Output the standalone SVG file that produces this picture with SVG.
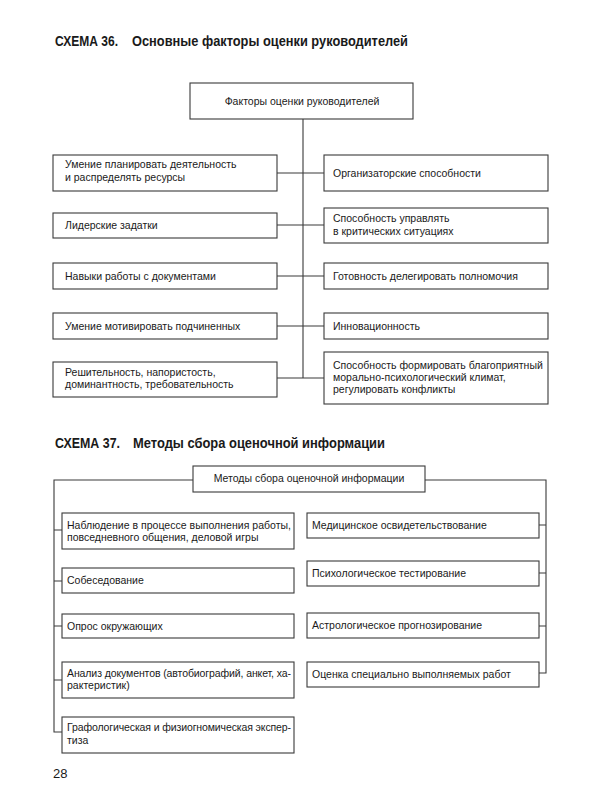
<svg xmlns="http://www.w3.org/2000/svg" width="600" height="800" viewBox="0 0 600 800">
<style>
.bg{fill:#fff}
.box{fill:#fff;stroke:#3a3a3a;stroke-width:1.1}
.ln{fill:none;stroke:#3a3a3a;stroke-width:1.1}
text{font-family:"Liberation Sans",Arial,sans-serif;fill:#1a1a1a}
.t{font-size:10.5px}
.c{text-anchor:middle}
.h{font-size:15px;font-weight:bold}
.pg{font-size:13px}
</style>
<rect class="bg" x="0" y="0" width="600" height="800"/>

<text class="h" x="55" y="46" textLength="63" lengthAdjust="spacingAndGlyphs">СХЕМА 36.</text>
<text class="h" x="132" y="46" textLength="276" lengthAdjust="spacingAndGlyphs">Основные факторы оценки руководителей</text>

<g id="connectors36">
<path class="ln" d="M303 119 V378 M277 173 H324 M277 225 H324 M277 276 H324 M277 326 H324 M277 378 H324"/>
</g>

<g id="n36_root"><rect class="box" x="190" y="83" width="223" height="36"/><text class="t c" x="302" y="105">Факторы оценки руководителей</text></g>

<g id="n36_l1"><rect class="box" x="53" y="155" width="224" height="36"/><text class="t" x="65" y="168">Умение планировать деятельность</text><text class="t" x="65" y="181">и распределять ресурсы</text></g>
<g id="n36_l2"><rect class="box" x="53" y="213" width="224" height="25"/><text class="t" x="65" y="229">Лидерские задатки</text></g>
<g id="n36_l3"><rect class="box" x="53" y="263" width="224" height="26"/><text class="t" x="65" y="280">Навыки работы с документами</text></g>
<g id="n36_l4"><rect class="box" x="53" y="313" width="224" height="26"/><text class="t" x="65" y="330">Умение мотивировать подчиненных</text></g>
<g id="n36_l5"><rect class="box" x="53" y="362" width="224" height="35"/><text class="t" x="65" y="376">Решительность, напористость,</text><text class="t" x="65" y="388">доминантность, требовательность</text></g>

<g id="n36_r1"><rect class="box" x="324" y="155" width="224" height="36"/><text class="t" x="333" y="177">Организаторские способности</text></g>
<g id="n36_r2"><rect class="box" x="324" y="208" width="224" height="35"/><text class="t" x="333" y="222">Способность управлять</text><text class="t" x="333" y="235">в критических ситуациях</text></g>
<g id="n36_r3"><rect class="box" x="324" y="263" width="224" height="26"/><text class="t" x="333" y="280">Готовность делегировать полномочия</text></g>
<g id="n36_r4"><rect class="box" x="324" y="313" width="224" height="26"/><text class="t" x="333" y="330">Инновационность</text></g>
<g id="n36_r5"><rect class="box" x="324" y="352" width="224" height="52"/><text class="t" x="333" y="369">Способность формировать благоприятный</text><text class="t" x="333" y="381">морально-психологический климат,</text><text class="t" x="333" y="393">регулировать конфликты</text></g>

<text class="h" x="55" y="448" textLength="65" lengthAdjust="spacingAndGlyphs">СХЕМА 37.</text>
<text class="h" x="133" y="448" textLength="252" lengthAdjust="spacingAndGlyphs">Методы сбора оценочной информации</text>

<g id="connectors37">
<path class="ln" d="M193 480 H54 V732 H62 M54 530 H62 M54 581 H62 M54 626 H62 M54 680 H62"/>
<path class="ln" d="M425 480 H546 V673 H539 M546 525 H539 M546 573 H539 M546 626 H539"/>
</g>

<g id="n37_root"><rect class="box" x="193" y="466" width="232" height="26"/><text class="t c" x="309" y="482">Методы сбора оценочной информации</text></g>

<g id="n37_l1"><rect class="box" x="62" y="513" width="232" height="36"/><text class="t" x="67" y="529" textLength="224" lengthAdjust="spacing">Наблюдение в процессе выполнения работы,</text><text class="t" x="67" y="541">повседневного общения, деловой игры</text></g>
<g id="n37_l2"><rect class="box" x="62" y="568" width="232" height="25"/><text class="t" x="67" y="584">Собеседование</text></g>
<g id="n37_l3"><rect class="box" x="62" y="614" width="232" height="24"/><text class="t" x="67" y="630">Опрос окружающих</text></g>
<g id="n37_l4"><rect class="box" x="62" y="662" width="232" height="36"/><text class="t" x="67" y="677" textLength="224" lengthAdjust="spacing">Анализ документов (автобиографий, анкет, ха-</text><text class="t" x="67" y="689">рактеристик)</text></g>
<g id="n37_l5"><rect class="box" x="62" y="717" width="232" height="36"/><text class="t" x="67" y="731" textLength="224" lengthAdjust="spacing">Графологическая и физиогномическая экспер-</text><text class="t" x="67" y="744">тиза</text></g>

<g id="n37_r1"><rect class="box" x="307" y="513" width="232" height="25"/><text class="t" x="312" y="529">Медицинское освидетельствование</text></g>
<g id="n37_r2"><rect class="box" x="307" y="561" width="232" height="25"/><text class="t" x="312" y="577">Психологическое тестирование</text></g>
<g id="n37_r3"><rect class="box" x="307" y="613" width="232" height="25"/><text class="t" x="312" y="629">Астрологическое прогнозирование</text></g>
<g id="n37_r4"><rect class="box" x="307" y="662" width="232" height="25"/><text class="t" x="312" y="678">Оценка специально выполняемых работ</text></g>

<text class="pg" x="53" y="778">28</text>
</svg>
